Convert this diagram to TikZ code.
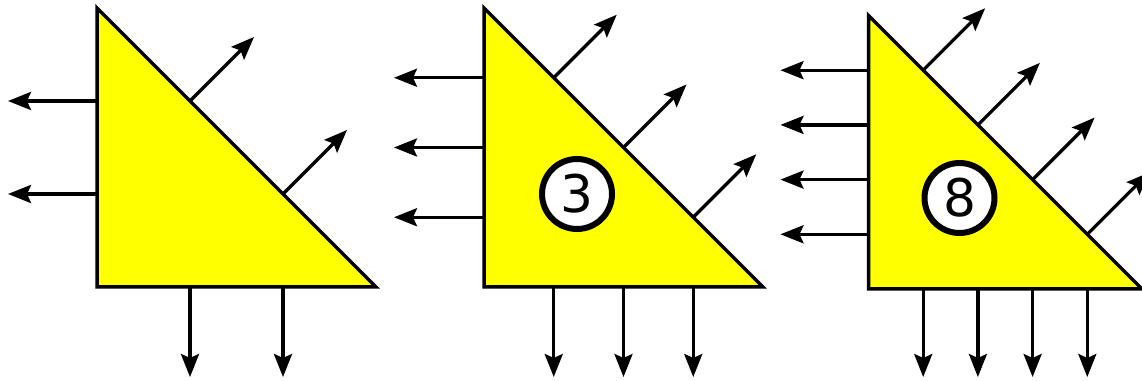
\documentclass[tikz,border=0pt]{standalone}
\usepackage{fontspec}
\setmainfont{DejaVu Sans}
\usepackage{tikz}
\usepackage{xcolor}
\usetikzlibrary{arrows.meta,calc}
\definecolor{prismfill}{HTML}{FFFF00}

\begin{document}
\begin{tikzpicture}[
  x=0.02cm, y=-0.02cm,
  tri/.style={draw, line width=0.07cm, fill=prismfill, line join=miter},
  arr/.style={-{Stealth[length=0.46cm, width=0.36cm, inset=0.08cm]}, line width=0.065cm},
  numcirc/.style={circle, draw, line width=0.12cm, fill=white, minimum size=1.4cm,
                  inner sep=0pt, font=\fontsize{29.5}{30}\selectfont},
]
\useasboundingbox (0,0) rectangle (1142,381);

% first prism: two outputs per side
\coordinate (T1top) at (97,8);
\coordinate (T1bl)  at (97,287);
\coordinate (T1br)  at (376,287);
\draw[tri] (T1top) -- (T1bl) -- (T1br) -- cycle;
\draw[arr] ($(T1top)!1/3!(T1bl)$) -- ++(-89,0);
\draw[arr] ($(T1top)!2/3!(T1bl)$) -- ++(-89,0);
\draw[arr] ($(T1bl)!1/3!(T1br)$) -- ++(0,90);
\draw[arr] ($(T1bl)!2/3!(T1br)$) -- ++(0,90);
\draw[arr] ($(T1top)!1/3!(T1br)$) -- ++(64,-64);
\draw[arr] ($(T1top)!2/3!(T1br)$) -- ++(64,-64);

% second prism: three outputs per side
\coordinate (T2top) at (484,8);
\coordinate (T2bl)  at (484,287);
\coordinate (T2br)  at (763,287);
\draw[tri] (T2top) -- (T2bl) -- (T2br) -- cycle;
\draw[arr] ($(T2top)!1/4!(T2bl)$) -- ++(-90,0);
\draw[arr] ($(T2top)!2/4!(T2bl)$) -- ++(-90,0);
\draw[arr] ($(T2top)!3/4!(T2bl)$) -- ++(-90,0);
\draw[arr] ($(T2bl)!1/4!(T2br)$) -- ++(0,90);
\draw[arr] ($(T2bl)!2/4!(T2br)$) -- ++(0,90);
\draw[arr] ($(T2bl)!3/4!(T2br)$) -- ++(0,90);
\draw[arr] ($(T2top)!1/4!(T2br)$) -- ++(63,-63);
\draw[arr] ($(T2top)!2/4!(T2br)$) -- ++(63,-63);
\draw[arr] ($(T2top)!3/4!(T2br)$) -- ++(63,-63);
\node[numcirc] (N3) at (577,194) {3};

% third prism: four outputs per side
\coordinate (T3top) at (868.5,15.5);
\coordinate (T3bl)  at (868.5,289);
\coordinate (T3br)  at (1142,289);
\draw[tri] (T3top) -- (T3bl) -- (T3br) -- cycle;
\draw[arr] ($(T3top)!1/5!(T3bl)$) -- ++(-88,0);
\draw[arr] ($(T3top)!2/5!(T3bl)$) -- ++(-88,0);
\draw[arr] ($(T3top)!3/5!(T3bl)$) -- ++(-88,0);
\draw[arr] ($(T3top)!4/5!(T3bl)$) -- ++(-88,0);
\draw[arr] ($(T3bl)!1/5!(T3br)$) -- ++(0,88);
\draw[arr] ($(T3bl)!2/5!(T3br)$) -- ++(0,88);
\draw[arr] ($(T3bl)!3/5!(T3br)$) -- ++(0,88);
\draw[arr] ($(T3bl)!4/5!(T3br)$) -- ++(0,88);
\draw[arr] ($(T3top)!1/5!(T3br)$) -- ++(62,-62);
\draw[arr] ($(T3top)!2/5!(T3br)$) -- ++(62,-62);
\draw[arr] ($(T3top)!3/5!(T3br)$) -- ++(62,-62);
\draw[arr] ($(T3top)!4/5!(T3br)$) -- ++(62,-62);
\node[numcirc] (N8) at (959.5,198) {8};

\end{tikzpicture}
\end{document}
